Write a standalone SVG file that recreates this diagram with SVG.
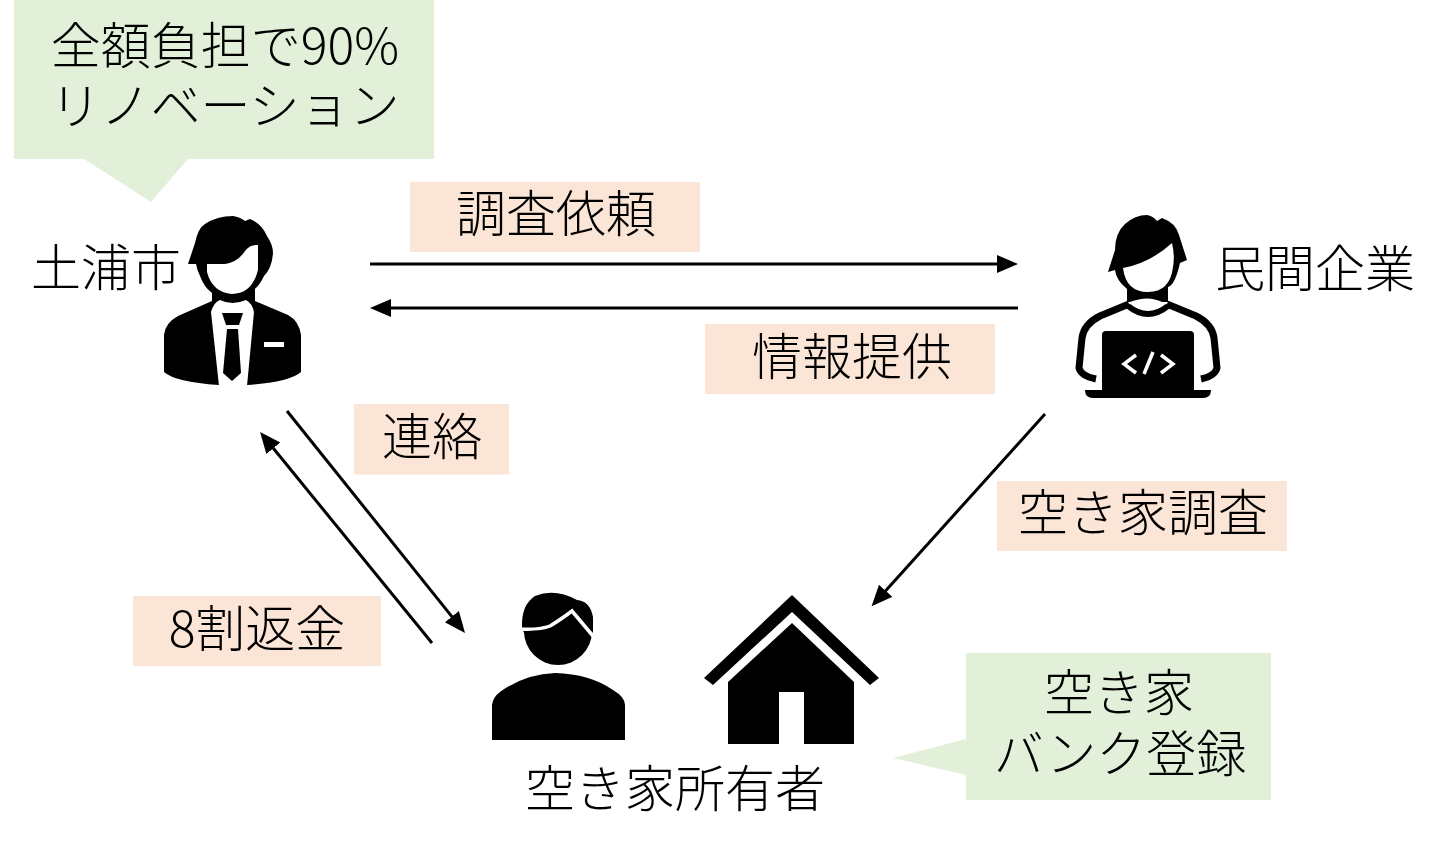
<svg xmlns="http://www.w3.org/2000/svg" width="1444" height="852" viewBox="0 0 1444 852">
<style>
text{font-family:"Noto Sans CJK JP","Noto Sans",sans-serif;font-size:50px;font-weight:300;fill:#000;text-anchor:middle}
.g{fill:#E2F0D9}.o{fill:#FBE5D6}.k{fill:#000}.w{fill:#fff}
.c{stroke:#000;stroke-width:3;fill:none;marker-end:url(#a)}
.ws{stroke:#fff;fill:none}.ks{stroke:#000;fill:none}
</style>
<defs><marker id="a" markerUnits="userSpaceOnUse" markerWidth="24" markerHeight="20" refX="1" refY="9" orient="auto"><path d="M0 0L21 9L0 18Z" fill="#000"/></marker></defs>
<rect width="1444" height="852" fill="#fff"/>
<g id="connectors">
<path class="c" d="M370 264H998"/>
<path class="c" d="M1018 308H390"/>
<path class="c" d="M287 411L452.500 617.400"/>
<path class="c" d="M432 643L272.700 447.500"/>
<path class="c" d="M1045 414L885 591.500"/>
</g>
<g id="callout-city"><path class="g" d="M14 0H434V159H188L151 202L84 159H14Z"/><text x="225" y="64">全額負担で90%<tspan x="225" y="124">リノベーション</tspan></text></g>
<g id="callout-bank"><path class="g" d="M966 653H1271V800H966V775L893 758L966 739Z"/><text x="1119" y="711">空き家<tspan x="1120" y="772">バンク登録</tspan></text></g>
<g id="label-request"><rect class="o" x="410" y="182" width="290" height="70"/><text x="556" y="232">調査依頼</text></g>
<g id="label-info"><rect class="o" x="705" y="324" width="290" height="70"/><text x="852" y="375">情報提供</text></g>
<g id="label-contact"><rect class="o" x="354" y="404" width="155" height="70.500"/><text x="432" y="455">連絡</text></g>
<g id="label-survey"><rect class="o" x="997" y="481" width="290" height="70"/><text x="1143" y="531">空き家調査</text></g>
<g id="label-refund"><rect class="o" x="133" y="596" width="248" height="70"/><text x="257" y="647">8割返金</text></g>
<g id="city">
<text x="106" y="286">土浦市</text>
<path class="k" d="M164 372V335Q165 323 178 316L212 301V288H255V301L288 315Q299 321 301 335V372Q290 382 247 385H219Q175 382 164 372Z"/>
<path class="w" d="M211 312Q214 302 220 300Q232 306 246 300Q252 303 254 312L247 386H219Z"/>
<path class="k" d="M222 313H243L239 325H226ZM227 329H238L241 373L232 381L223 373Z"/>
<rect class="w" x="264" y="342" width="20" height="5"/>
<path class="k" d="M188 264L195 243Q198 228 205 224Q217 216 233 216Q240 217 245 221L250 219Q262 224 267 236Q273 245 273 253Q272 268 264 276Q254 298 230 298Q208 298 200 276Q197 270 196 264Z"/>
<path class="w" d="M207 264H225Q238 262 245 251Q250 244 258 245V270Q252 294 232 294Q212 292 207 272Z"/>
</g>
<g id="company">
<text x="1315" y="287">民間企業</text>
<path class="k" d="M1108 272L1115 250Q1115 233 1125 224Q1135 215 1147 215Q1153 216 1157 221L1162 218Q1176 223 1179 235L1187 260L1180 263Q1175 285 1168 287V302L1162 302Q1148 295 1130 302H1127V289Q1116 280 1115 270Z"/>
<path class="w" d="M1123 268Q1150 263 1172 243Q1175 256 1173 267Q1170 292 1148 292Q1126 292 1123 268Z"/>
<path class="ks" stroke-width="7" d="M1129 304L1100 316Q1084 324 1082 338L1079 368Q1081 376 1096 379M1167 304L1196 316Q1212 324 1214 338L1217 368Q1215 376 1201 379"/>
<path class="ks" stroke-width="6" d="M1128 306Q1148 322 1168 306"/>
<rect class="k" x="1102" y="331" width="92" height="62" rx="4"/>
<path class="k" d="M1085 390H1211Q1211 398 1203 398H1093Q1085 398 1085 390Z"/>
<path class="ws" stroke-width="3.500" d="M1136 355L1124 364L1136 373M1153 352L1144 374M1161 355L1173 364L1161 373"/>
</g>
<g id="owner">
<text x="675" y="807">空き家所有者</text>
<path class="k" d="M522 628Q521 605 535 596Q555 588 577 600Q590 601 593 617V632L590 640L558 664L527 640Z"/>
<circle class="k" cx="558" cy="631" r="34"/>
<path class="ws" stroke-width="3.500" d="M520 629Q540 630 550 626Q560 620 572 611L593 636"/>
<path class="k" d="M492 740V705Q493 697 500 692Q525 674 555 673Q590 674 613 690Q625 697 625 705V740Z"/>
<path class="k" d="M792 595L879 678L870 685L792 612L713 685L704 678Z"/>
<path class="k" d="M792 623L854 682V744H804V692H779V744H728V682Z"/>
</g>
</svg>
